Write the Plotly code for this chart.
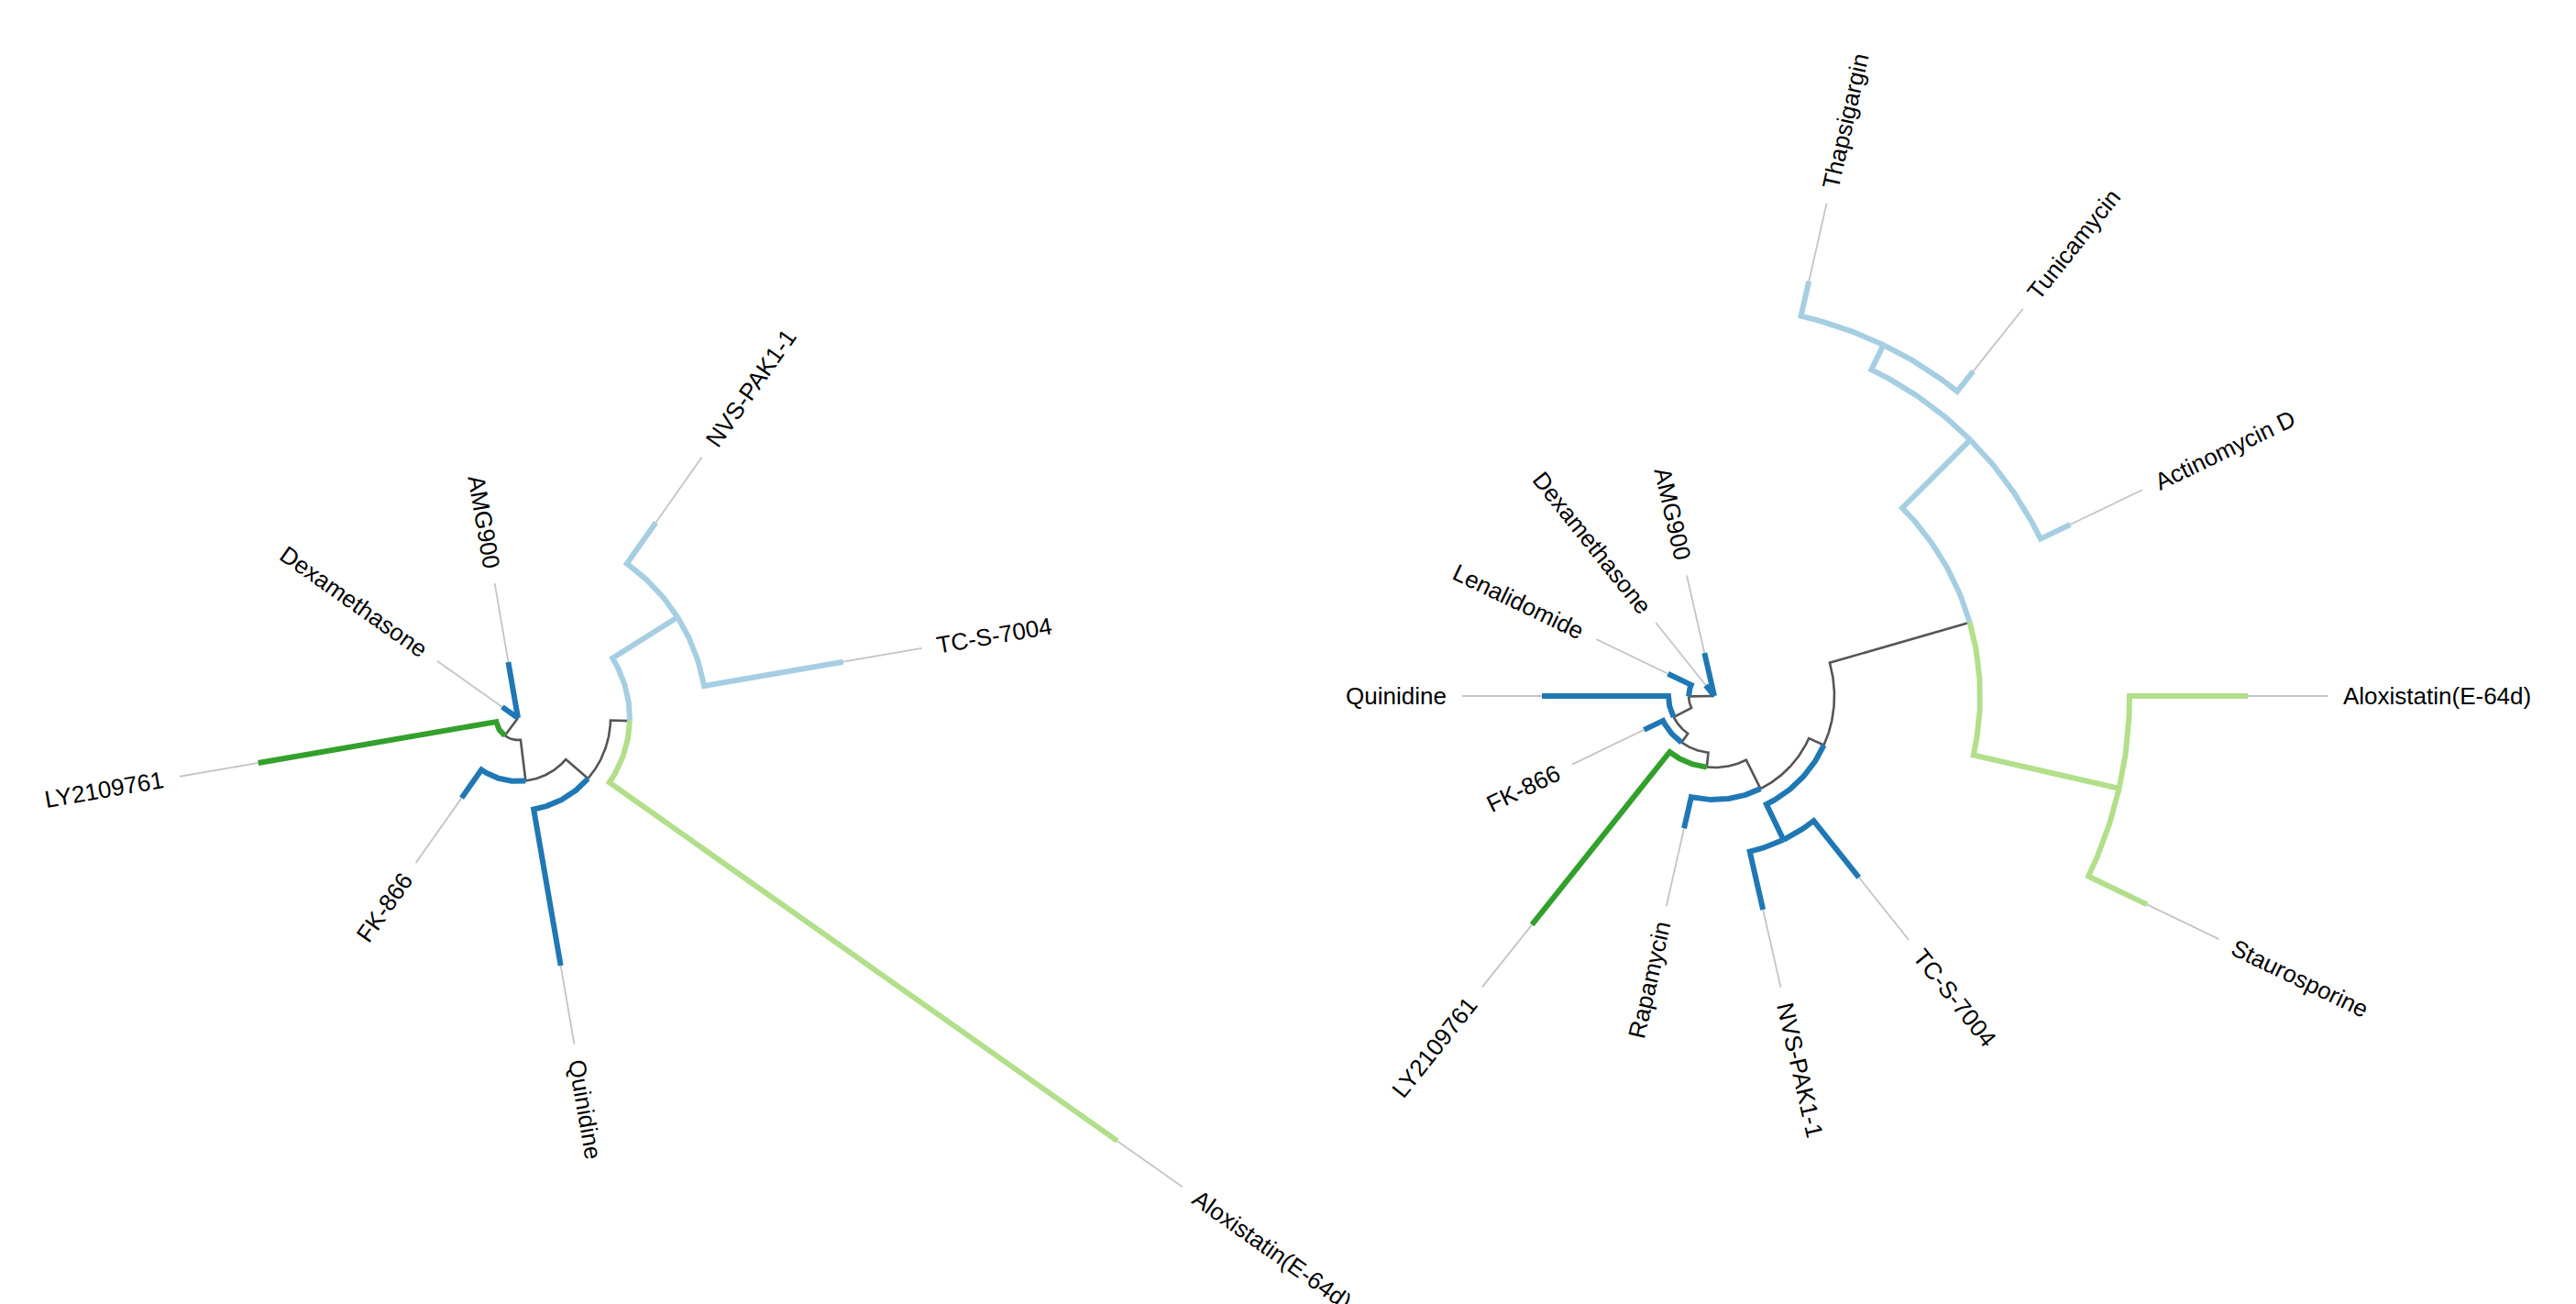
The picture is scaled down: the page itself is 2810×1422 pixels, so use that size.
import math
import plotly.graph_objects as go

# ---------------- data ----------------
# Tree 1: node table (name, parent, branch length). Children keep list order.
left_nodes = ["n1", "n2", "n3", "n4", "n5",
              "NVS-PAK1-1", "TC-S-7004", "Aloxistatin(E-64d)", "Quinidine",
              "FK-866", "LY2109761", "Dexamethasone", "AMG900"]
left_parents = ["root", "n1", "n2", "n3", "n4",
                "n5", "n5", "n4", "n3",
                "n2", "n1", "root", "root"]
left_lengths = [0.024, 0.045, 0.032, 0.021, 0.084,
                0.055, 0.154, 0.678, 0.173,
                0.0376, 0.2635, 0.021, 0.062]
left_dark_blue = ["Quinidine", "FK-866", "Dexamethasone", "AMG900"]
left_light_blue = ["NVS-PAK1-1", "TC-S-7004"]
left_dark_green = ["LY2109761"]
left_light_green = ["Aloxistatin(E-64d)"]

# Tree 2
right_nodes = ["n1", "n2", "n3", "n4", "n5", "n6", "n7", "n8", "n9",
               "Thapsigargin", "Tunicamycin", "Actinomycin D",
               "n10", "Aloxistatin(E-64d)", "Staurosporine",
               "n11", "TC-S-7004", "NVS-PAK1-1",
               "Rapamycin", "LY2109761", "FK-866", "Quinidine",
               "Lenalidomide", "Dexamethasone", "AMG900"]
right_parents = ["root", "n1", "n2", "n3", "n4", "n5", "n6", "n7", "n8",
                 "n9", "n9", "n8",
                 "n7", "n10", "n10",
                 "n6", "n11", "n11",
                 "n5", "n4", "n3", "n2",
                 "n1", "root", "root"]
right_lengths = [0.028, 0.022, 0.012, 0.016, 0.035, 0.018, 0.159, 0.105, 0.030,
                 0.039, 0.028, 0.036,
                 0.163, 0.129, 0.071,
                 0.043, 0.079, 0.065,
                 0.035, 0.241, 0.023, 0.138,
                 0.028, 0.015, 0.048]
right_dark_blue = ["TC-S-7004", "NVS-PAK1-1", "Rapamycin", "FK-866", "Quinidine",
                   "Lenalidomide", "Dexamethasone", "AMG900"]
right_light_blue = ["Thapsigargin", "Tunicamycin", "Actinomycin D"]
right_dark_green = ["LY2109761"]
right_light_green = ["Aloxistatin(E-64d)", "Staurosporine"]

# ---------------- styling ----------------
W, H = 2810, 1422
PAIRED = {"dark_blue": "#1f78b4", "light_blue": "#a6cee3",
          "dark_green": "#33a02c", "light_green": "#b2df8a"}
INNER = "#555555"
EXT = "#c4c4c4"
FONT_SIZE = 26
EXT_LEN = 87       # leader line beyond each tip (px)
LABEL_GAP = 17     # gap between leader and label (px)
SCALE = 1000.0     # px per branch-length unit

# Arial / Liberation Sans advance widths (em)
CHAR_W = {
    "A": .667, "C": .722, "D": .722, "E": .667, "F": .611, "G": .778, "K": .667,
    "L": .556, "M": .833, "N": .722, "P": .667, "Q": .778, "R": .722, "S": .667,
    "T": .611, "V": .667, "Y": .667,
    "a": .556, "b": .556, "c": .5, "d": .556, "e": .556, "g": .556, "h": .556,
    "i": .222, "l": .222, "m": .833, "n": .556, "o": .556, "p": .556, "r": .333,
    "s": .5, "t": .278, "u": .556, "x": .5, "y": .5,
    "(": .333, ")": .333, "-": .333, " ": .278,
}


def text_width(s):
    return sum(CHAR_W.get(ch, .556) for ch in s) * FONT_SIZE


def clade_map(groups):
    out = {}
    for key, leaves in groups.items():
        for leaf in leaves:
            out[leaf] = key
    return out


def radial_tree(nodes, parents, lengths, clades, start_angle, cx, cy):
    kids = {}
    for n, p in zip(nodes, parents):
        kids.setdefault(p, []).append(n)
    blen = dict(zip(nodes, lengths))
    radius, angle, colour = {"root": 0.0}, {}, {}
    leaves = []

    def walk(n):
        for k in kids.get(n, []):
            radius[k] = radius[n] + blen[k] * SCALE
            walk(k)
        if n not in kids:
            leaves.append(n)

    walk("root")
    step = 360.0 / len(leaves)
    for i, leaf in enumerate(leaves):
        angle[leaf] = start_angle + i * step

    def settle(n):
        if n in kids:
            cs = [settle(k) for k in kids[n]]
            angle[n] = sum(angle[k] for k in kids[n]) / len(kids[n])
            colour[n] = cs[0] if len(set(cs)) == 1 else None
        else:
            colour[n] = clades[n]
        return colour[n]

    settle("root")

    def pt(r, a):
        t = math.radians(a)
        return cx + r * math.cos(t), cy + r * math.sin(t)

    segs = {}
    for n, p in zip(nodes, parents):
        rp, ap, ac = radius[p], angle[p], angle[n]
        xs, ys = [], []
        if rp > 0:
            k = max(2, int(abs(ac - ap) / 0.5) + 1)
            for j in range(k):
                x, y = pt(rp, ap + (ac - ap) * j / (k - 1))
                xs.append(x)
                ys.append(y)
        else:
            x, y = pt(0, ac)
            xs.append(x)
            ys.append(y)
        x, y = pt(radius[n], ac)
        xs.append(x)
        ys.append(y)
        key = colour[n] if colour[n] else "inner"
        sx, sy = segs.setdefault(key, ([], []))
        sx.extend(xs + [None])
        sy.extend(ys + [None])

    ext_x, ext_y, labels = [], [], []
    for leaf in leaves:
        a, r = angle[leaf], radius[leaf]
        x0, y0 = pt(r, a)
        x1, y1 = pt(r + EXT_LEN, a)
        ext_x += [x0, x1, None]
        ext_y += [y0, y1, None]
        w = text_width(leaf)
        lx, ly = pt(r + EXT_LEN + LABEL_GAP + w / 2.0, a)
        a_norm = (a + 180) % 360 - 180
        rot = a_norm if -90 <= a_norm <= 90 else a_norm - 180 if a_norm > 0 else a_norm + 180
        labels.append(dict(x=lx, y=ly, text=leaf, textangle=rot))
    return segs, (ext_x, ext_y), labels


left = radial_tree(left_nodes, left_parents, left_lengths,
                   clade_map({"dark_blue": left_dark_blue, "light_blue": left_light_blue,
                              "dark_green": left_dark_green, "light_green": left_light_green}),
                   -54.8, 565, 783)
right = radial_tree(right_nodes, right_parents, right_lengths,
                    clade_map({"dark_blue": right_dark_blue, "light_blue": right_light_blue,
                               "dark_green": right_dark_green, "light_green": right_light_green}),
                    -90 + 360.0 / 28, 1870, 759)

fig = go.Figure()
annotations = []
for segs, (ex, ey), labels in (left, right):
    fig.add_trace(go.Scatter(x=ex, y=ey, mode="lines", hoverinfo="skip",
                             line=dict(color=EXT, width=1.8), showlegend=False))
    if "inner" in segs:
        sx, sy = segs["inner"]
        fig.add_trace(go.Scatter(x=sx, y=sy, mode="lines", hoverinfo="skip",
                                 line=dict(color=INNER, width=2.6), showlegend=False))
    for key in ("light_blue", "light_green", "dark_blue", "dark_green"):
        if key in segs:
            sx, sy = segs[key]
            fig.add_trace(go.Scatter(x=sx, y=sy, mode="lines", hoverinfo="skip",
                                     line=dict(color=PAIRED[key], width=6),
                                     showlegend=False))
    for lab in labels:
        annotations.append(dict(x=lab["x"], y=lab["y"], xref="x", yref="y",
                                text=lab["text"], textangle=lab["textangle"],
                                showarrow=False, xanchor="center", yanchor="middle",
                                font=dict(family="Liberation Sans, Arial, sans-serif",
                                          size=FONT_SIZE, color="#000000")))

fig.update_layout(
    width=W, height=H, autosize=False,
    margin=dict(l=0, r=0, t=0, b=0, pad=0),
    paper_bgcolor="white", plot_bgcolor="white",
    xaxis=dict(range=[0, W], visible=False, fixedrange=True),
    yaxis=dict(range=[H, 0], visible=False, fixedrange=True),
    annotations=annotations,
    showlegend=False,
)

fig.write_html("out.html")
